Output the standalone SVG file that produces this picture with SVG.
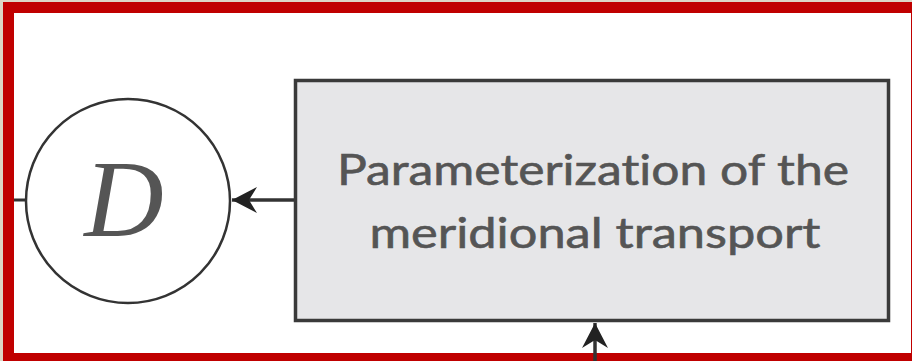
<svg xmlns="http://www.w3.org/2000/svg" width="912" height="361" viewBox="0 0 912 361">
<style>
.txt{font-family:"Lato","Open Sans",sans-serif;font-size:42px;fill:#555;stroke:#555;stroke-width:0.6;text-anchor:middle;font-variant-ligatures:none}
.conn{stroke:#333;stroke-width:3.5;fill:none}
</style>
<defs>
<marker id="ah" markerWidth="26" markerHeight="28" refX="25" refY="14" orient="auto" markerUnits="userSpaceOnUse">
<path d="M25,14 L0,1 L8,14 L0,27 Z" fill="#222"/>
</marker>
</defs>
<rect x="0" y="0" width="912" height="361" fill="#ddd6c6"/>
<rect x="3" y="2" width="912" height="362" fill="#c00000"/>
<rect x="14" y="13" width="897" height="340" fill="#ffffff"/>
<g id="connectors">
<line class="conn" x1="14" y1="200" x2="27" y2="200" style="stroke-width:3"/>
<line class="conn" x1="294" y1="200" x2="232" y2="200" marker-end="url(#ah)"/>
<line class="conn" x1="595" y1="361" x2="595" y2="323" marker-end="url(#ah)"/>
</g>
<g id="node-D">
<circle cx="128" cy="201" r="102" fill="#fff" stroke="#333" stroke-width="2.5"/>
<text x="124" y="236" font-family="Liberation Serif, serif" font-style="italic" font-size="110" fill="#555" text-anchor="middle">D</text>
</g>
<g id="node-param">
<rect x="295.5" y="80.5" width="593" height="240" fill="#e6e6e8" stroke="#3a3a3a" stroke-width="3.5"/>
<text class="txt" x="593" y="185" textLength="512" lengthAdjust="spacingAndGlyphs">Parameterization of the</text>
<text class="txt" x="595" y="248" textLength="451" lengthAdjust="spacingAndGlyphs">meridional transport</text>
</g>
</svg>
